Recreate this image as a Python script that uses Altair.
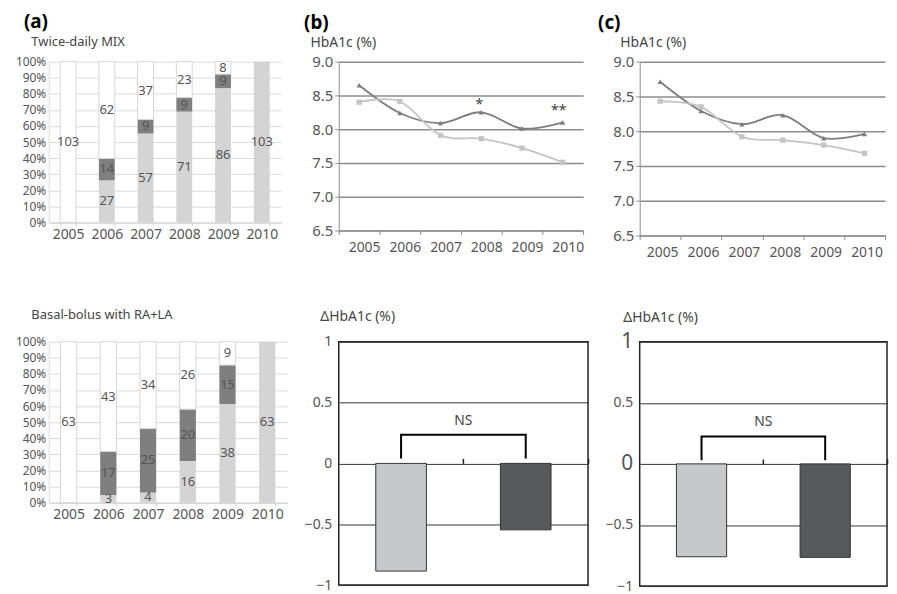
import altair as alt
import pandas as pd

years = ["2005", "2006", "2007", "2008", "2009", "2010"]

# (a) patient counts per year: light (bottom), dark (middle), white (top)
mix_light = [0, 27, 57, 71, 86, 103]
mix_dark = [0, 14, 9, 9, 9, 0]
mix_white = [103, 62, 37, 23, 8, 0]
bb_light = [0, 3, 4, 16, 38, 63]
bb_dark = [0, 17, 25, 20, 15, 0]
bb_white = [63, 43, 34, 26, 9, 0]

# (b), (c) HbA1c (%) per year
b_tri = [8.65, 8.24, 8.09, 8.25, 8.01, 8.10]
b_sq = [8.40, 8.41, 7.91, 7.86, 7.72, 7.51]
c_tri = [8.71, 8.29, 8.10, 8.23, 7.90, 7.96]
c_sq = [8.43, 8.35, 7.92, 7.87, 7.80, 7.68]

# delta HbA1c (%)
groups = ["light", "dark"]
b_delta = [-0.885, -0.546]
c_delta = [-0.76, -0.765]
b_bracket = [0.04, 0.236, 0.236, 0.04]
c_bracket = [0.03, 0.225, 0.225, 0.03]

FONT = "Noto Sans"
LABEL = "#555555"


def panel_title(text, dx, offset):
    return alt.TitleParams(text=text, anchor="start", frame="group", dx=dx, offset=offset,
                           fontSize=19, fontWeight="bold", color="black", font=FONT,
                           baseline="alphabetic")


def stack_panel(light, dark, white, subtitle, width, height, tx, ty, panel=None):
    rows = []
    for i, yr in enumerate(years):
        for k, (seg, vals) in enumerate((("light", light), ("dark", dark), ("white", white))):
            rows.append({"year": yr, "seg": seg, "k": k, "n": vals[i]})
    df = pd.DataFrame(rows)
    base = alt.Chart(df).transform_filter("datum.n > 0").transform_stack(
        stack="n", groupby=["year"], as_=["y0", "y1"], offset="normalize",
        sort=[alt.SortField("k", order="ascending")]
    ).transform_calculate(ym="(datum.y0 + datum.y1) / 2")
    x = alt.X("year:N", scale=alt.Scale(domain=years, paddingInner=0.59, paddingOuter=0.295),
              axis=alt.Axis(title=None, labelAngle=0, tickBand="extent", tickSize=3,
                            tickColor="#d0d0d0", domainColor="#d0d0d0", labelColor=LABEL,
                            labelFontSize=14, labelPadding=2, grid=False, labelFont=FONT))
    yaxis = alt.Axis(format="%", values=[i / 10 for i in range(11)], grid=True,
                     gridColor="#dadada", ticks=False, domainColor="#d9d9d9",
                     labelColor=LABEL, labelFontSize=12, labelPadding=3, labelFont=FONT,
                     labelOverlap=False, labelBound=False,
                     title=subtitle, titleAngle=0, titleAlign="left",
                     titleBaseline="alphabetic", titleX=tx, titleY=ty,
                     titleFontSize=13, titleFontWeight="normal", titleColor="#444",
                     titleFont=FONT)
    yscale = alt.Scale(domain=[0, 1], nice=False)
    bars = base.mark_bar(strokeWidth=1).encode(
        x=x, y=alt.Y("y0:Q", scale=yscale, axis=yaxis), y2="y1:Q",
        color=alt.Color("seg:N", scale=alt.Scale(domain=["light", "dark", "white"],
                                                 range=["#d4d4d4", "#7f7f7f", "#ffffff"]),
                        legend=None),
        stroke=alt.condition("datum.seg == 'white'", alt.value("#d6d6d6"), alt.value("transparent")),
    )
    text = base.mark_text(fontSize=13, color=LABEL, font=FONT).encode(
        x=x, y=alt.Y("ym:Q", scale=yscale, axis=yaxis), text="n:Q")
    ch = alt.layer(bars, text).properties(width=width, height=height,
                                          view=alt.ViewBackground(stroke="transparent"))
    if panel:
        ch = ch.properties(title=panel_title(panel, -25, -11))
    return ch


def line_panel(tri, sq, width, height, tx, ty, panel, pdx, loff, stars):
    df = pd.DataFrame({"year": years * 2, "series": ["tri"] * 6 + ["sq"] * 6, "v": tri + sq})
    x = alt.X("year:N", scale=alt.Scale(type="band", domain=years, paddingInner=0, paddingOuter=0),
              axis=alt.Axis(title=None, labelAngle=0, tickBand="extent", tickColor="#8c8c8c",
                            tickSize=4, domainColor="#8c8c8c", labelColor=LABEL, labelFontSize=14,
                            labelPadding=6, labelOffset=loff, grid=False, labelFont=FONT))
    y = alt.Y("v:Q", scale=alt.Scale(domain=[6.5, 9.0], nice=False, zero=False),
              axis=alt.Axis(values=[6.5, 7, 7.5, 8, 8.5, 9], format=".1f", grid=True,
                            gridColor="#8c8c8c", gridWidth=1.5, tickColor="#8c8c8c", tickSize=4,
                            domainColor="#8c8c8c", labelColor=LABEL, labelFontSize=15,
                            labelPadding=2, labelFont=FONT, labelOverlap=False, labelBound=False,
                            title="HbA1c (%)", titleAngle=0, titleAlign="left",
                            titleBaseline="alphabetic", titleX=tx, titleY=ty, titleFontSize=14,
                            titleFontWeight="normal", titleColor="#444", titleFont=FONT))
    color = alt.Color("series:N", scale=alt.Scale(domain=["tri", "sq"], range=["#7d7d7d", "#c4c4c4"]),
                      legend=None)
    base = alt.Chart(df).encode(x=x, y=y, color=color)
    lines = base.mark_line(interpolate="cardinal", strokeWidth=1.8)
    pts = base.mark_point(filled=True, opacity=1, size=28).encode(
        shape=alt.Shape("series:N", scale=alt.Scale(domain=["tri", "sq"], range=["triangle-up", "square"]),
                        legend=None))
    layers = [lines, pts]
    for (yr, val, txt, dx) in stars:
        sdf = pd.DataFrame({"year": [yr], "v": [val], "t": [txt]})
        layers.append(alt.Chart(sdf).mark_text(dx=dx, fontSize=14, color="#444", font=FONT,
                                               baseline="middle").encode(
            x=x, y=y, text="t:N"))
    return alt.layer(*layers).properties(width=width, height=height,
                                         view=alt.ViewBackground(stroke="transparent"),
                                         title=panel_title(panel, pdx, -12))


def delta_panel(vals, bracket, ns_y, width, height, tx, ty, big):
    df = pd.DataFrame({"grp": groups, "d": vals})
    x = alt.X("grp:N", scale=alt.Scale(domain=groups, paddingInner=0.594, paddingOuter=0.297),
              axis=alt.Axis(orient="top", offset=-height / 2, labels=False, title=None,
                            domain=False, tickColor="#222", tickSize=5, tickOffset=width / 4,
                            tickWidth=1.5, grid=False))
    lfs = alt.condition("datum.value == 1 || datum.value == 0", alt.value(21), alt.value(14)) if big else 14
    y = alt.Y("d:Q", scale=alt.Scale(domain=[-1, 1], nice=False),
              axis=alt.Axis(values=[-1, -0.5, 0, 0.5, 1], format="~g", grid=True, gridColor="#333",
                            gridWidth=1, ticks=False, domain=False, labelColor=LABEL,
                            labelFontSize=lfs, labelPadding=7, labelFont=FONT,
                            labelOverlap=False, labelBound=False,
                            title="ΔHbA1c (%)", titleAngle=0, titleAlign="left",
                            titleBaseline="alphabetic", titleX=tx, titleY=ty, titleFontSize=14,
                            titleFontWeight="normal", titleColor="#444", titleFont=FONT))
    bars = alt.Chart(df).mark_bar(stroke="#333", strokeWidth=1).encode(
        x=x, y=y,
        color=alt.Color("grp:N", scale=alt.Scale(domain=groups, range=["#c7c8ca", "#58595b"]),
                        legend=None))
    bdf = pd.DataFrame({"grp": [groups[0], groups[0], groups[1], groups[1]], "d": bracket,
                        "o": [0, 1, 2, 3]})
    br = alt.Chart(bdf).mark_line(color="black", strokeWidth=2).encode(
        x=x, y=y, order="o:Q")
    ndf = pd.DataFrame({"grp": [groups[0]], "d": [ns_y], "t": ["NS"]})
    ns = alt.Chart(ndf).mark_text(dx=width / 4, fontSize=14, color="#444", font=FONT,
                                  baseline="middle").encode(x=x, y=y, text="t:N")
    return alt.layer(bars, br, ns).properties(
        width=width, height=height,
        view=alt.ViewBackground(stroke="#222", strokeWidth=1.5))


a_top = stack_panel(mix_light, mix_dark, mix_white, "Twice-daily MIX", 234, 162, -18, -16, "(a)")
a_bot = stack_panel(bb_light, bb_dark, bb_white, "Basal-bolus with RA+LA", 240, 162, -18, -23)
b_top = line_panel(b_tri, b_sq, 246, 170, -29, -15, "(b)", -35, 5,
                   [("2008", 8.36, "*", -2), ("2010", 8.27, "**", -4)])
c_top = line_panel(c_tri, c_sq, 247, 175, -20, -15, "(c)", -42, 2, [])
b_bot = delta_panel(b_delta, b_bracket, 0.345, 251, 245, -19, -21, False)
c_bot = delta_panel(c_delta, c_bracket, 0.34, 249, 246, -17, -20, True)

chart = alt.concat(a_top, b_top, c_top, a_bot, b_bot, c_bot, columns=3,
                   spacing={"row": 107, "column": 52}, bounds="flush", align="each").resolve_scale(
    color="independent", shape="independent"
).configure(
    font=FONT, padding={"left": 6, "top": 2, "right": 0, "bottom": 0}
).configure_view(stroke="transparent")

chart.save("out.html", embed_options={"renderer": "svg", "actions": False})
